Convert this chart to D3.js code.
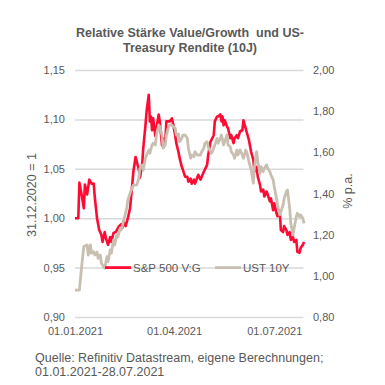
<!DOCTYPE html>
<html>
<head>
<meta charset="utf-8">
<script src="https://cdn.jsdelivr.net/npm/d3@7"></script>
<style>
  body { margin: 0; background: #fff; }
  svg { display: block; font-family: "Liberation Sans", Arial, sans-serif; }
  .tick line { stroke: #d9d9d9; }
  .tick text { fill: #595959; font-size: 11px; }
</style>
</head>
<body>
<script>
// Tick labels
var leftTicks = [0.90, 0.95, 1.00, 1.05, 1.10, 1.15];
var rightTicks = [0.80, 1.00, 1.20, 1.40, 1.60, 1.80, 2.00];
var dateTicks = ['2021-01-01', '2021-04-01', '2021-07-01'];

// S&P 500 Value/Growth, [days since 01.01.2021, value]
var spVG = [[0,1.000],[3,1.000],[4,1.036],[6,1.024],[8,1.010],[9,1.034],[11,1.024],[13,1.039],[15,1.035],[17,1.035],
  [18,1.021],[20,1.000],[22,0.988],[24,0.983],[25,0.976],[27,0.986],[28,0.980],[30,0.973],[32,0.981],[33,0.976],
  [35,0.985],[37,0.986],[40,0.992],[42,0.994],[43,0.990],[44,0.997],[46,0.992],[48,1.000],[50,1.010],[52,1.034],
  [53,1.047],[55,1.062],[58,1.049],[59,1.041],[61,1.054],[62,1.071],[64,1.094],[65,1.108],[67,1.125],[68,1.098],
  [69,1.103],[70,1.089],[71,1.101],[73,1.083],[74,1.091],[76,1.105],[77,1.098],[79,1.074],[80,1.081],[82,1.077],
  [83,1.098],[86,1.098],[88,1.101],[89,1.096],[91,1.084],[92,1.076],[94,1.067],[95,1.061],[97,1.052],[98,1.049],
  [100,1.042],[102,1.042],[103,1.037],[105,1.040],[106,1.035],[108,1.039],[109,1.035],[112,1.044],[114,1.039],[117,1.047],
  [120,1.054],[121,1.064],[123,1.077],[126,1.084],[127,1.098],[129,1.103],[130,1.103],[132,1.105],[133,1.098],[134,1.103],
  [135,1.094],[136,1.099],[138,1.093],[139,1.091],[141,1.081],[142,1.084],[144,1.076],[145,1.081],[147,1.084],[148,1.081],
  [150,1.088],[152,1.089],[153,1.099],[155,1.091],[156,1.087],[158,1.079],[160,1.067],[162,1.059],[163,1.047],[165,1.052],
  [166,1.042],[168,1.034],[169,1.027],[171,1.029],[172,1.022],[174,1.027],[175,1.024],[177,1.017],[178,1.020],[180,1.008],
  [181,1.015],[183,1.005],[184,1.002],[186,1.007],[187,0.988],[189,0.986],[190,0.992],[192,0.988],[193,0.983],[195,0.986],
  [196,0.978],[198,0.981],[199,0.976],[201,0.978],[202,0.966],[204,0.965],[205,0.970],[207,0.973],[208,0.976]];

// UST 10Y yield in % p.a., [days since 01.01.2021, value]
var ust10 = [[0,0.931],[4,0.931],[6,1.044],[8,1.142],[11,1.150],[12,1.101],[14,1.150],[15,1.110],[17,1.117],[18,1.101],
  [20,1.116],[21,1.085],[23,1.101],[24,1.061],[26,1.044],[27,1.037],[29,1.093],[30,1.069],[32,1.126],[33,1.110],
  [35,1.174],[36,1.150],[38,1.198],[39,1.190],[41,1.231],[42,1.223],[44,1.263],[45,1.287],[47,1.328],[48,1.369],
  [50,1.400],[53,1.441],[56,1.441],[58,1.475],[59,1.523],[61,1.539],[62,1.514],[64,1.571],[65,1.587],[67,1.611],
  [68,1.595],[70,1.636],[71,1.644],[73,1.636],[74,1.684],[76,1.733],[77,1.725],[79,1.684],[80,1.620],[82,1.636],
  [83,1.684],[85,1.725],[86,1.733],[88,1.733],[89,1.725],[91,1.718],[92,1.684],[94,1.689],[95,1.652],[97,1.668],
  [98,1.684],[100,1.684],[102,1.668],[103,1.620],[105,1.571],[106,1.587],[108,1.579],[109,1.603],[111,1.587],[114,1.587],
  [115,1.603],[117,1.620],[118,1.644],[120,1.652],[121,1.627],[123,1.603],[124,1.595],[126,1.620],[127,1.636],[129,1.668],
  [130,1.644],[132,1.668],[133,1.684],[135,1.636],[136,1.652],[138,1.684],[139,1.636],[141,1.627],[142,1.603],[144,1.587],
  [145,1.571],[147,1.611],[148,1.587],[150,1.611],[152,1.587],[153,1.571],[155,1.611],[156,1.603],[158,1.555],[160,1.514],
  [162,1.450],[163,1.530],[165,1.603],[166,1.555],[168,1.498],[169,1.530],[171,1.506],[172,1.523],[174,1.539],[175,1.523],
  [177,1.506],[178,1.490],[180,1.466],[181,1.433],[183,1.377],[184,1.344],[186,1.296],[187,1.312],[189,1.344],[190,1.377],
  [192,1.409],[193,1.417],[195,1.328],[196,1.255],[198,1.198],[199,1.231],[201,1.287],[202,1.304],[204,1.287],[205,1.296],
  [207,1.280],[208,1.255]];

var seriesNames = ['S&P 500 V:G', 'UST 10Y'];
var seriesColors = ['#ff0a32', '#c9bfb1'];

var W = 385, H = 385;
var plotLeft = 75, plotRight = 304, plotTop = 70, plotBottom = 317;

var start = new Date(2021, 0, 1);
function day(d) { return d3.timeDay.offset(start, d); }

var x = d3.scaleTime().domain([start, new Date(2021, 6, 28)]).range([plotLeft, plotRight]);
var yL = d3.scaleLinear().domain([0.90, 1.15]).range([plotBottom, plotTop]);
var yR = d3.scaleLinear().domain([0.80, 2.00]).range([plotBottom, plotTop]);

var de = d3.formatLocale({decimal: ',', thousands: '.', grouping: [3], currency: ['', '€']});
var fmt = de.format('.2f');

var svg = d3.select('body').append('svg')
  .attr('width', W)
  .attr('height', H);

// Title
svg.append('text')
  .attr('x', 190).attr('y', 37)
  .attr('text-anchor', 'middle')
  .attr('font-size', '12.5px').attr('font-weight', 'bold').attr('fill', '#595959')
  .attr('xml:space', 'preserve')
  .selectAll('tspan')
  .data(['Relative Stärke Value/Growth  und US-', 'Treasury Rendite (10J)'])
  .enter().append('tspan')
    .attr('x', 190)
    .attr('dy', function(d, i) { return i ? 15 : 0; })
    .text(function(d) { return d; });

// Left axis with gridlines
var gL = svg.append('g')
  .attr('transform', 'translate(' + plotLeft + ',0)')
  .call(d3.axisLeft(yL).tickValues(leftTicks).tickFormat(fmt).tickSize(-(plotRight - plotLeft - 0.5)).tickPadding(10));
gL.select('.domain').remove();
gL.selectAll('.tick line').attr('stroke', '#d9d9d9').attr('stroke-width', 1.5);

// Right axis
var gR = svg.append('g')
  .attr('transform', 'translate(' + plotRight + ',0)')
  .call(d3.axisRight(yR).tickValues(rightTicks).tickFormat(fmt).tickSize(0).tickPadding(9));
gR.select('.domain').remove();

// Date axis
var parse = d3.timeParse('%Y-%m-%d');
var gX = svg.append('g')
  .attr('transform', 'translate(0,' + plotBottom + ')')
  .call(d3.axisBottom(x).tickValues(dateTicks.map(parse))
    .tickFormat(d3.timeFormat('%d.%m.%Y')).tickSize(0).tickPadding(10));
gX.select('.domain').remove();

// Axis titles
svg.append('text')
  .attr('transform', 'translate(36,195) rotate(-90)')
  .attr('text-anchor', 'middle')
  .attr('font-size', '12.5px').attr('fill', '#595959')
  .text('31.12.2020 = 1');

svg.append('text')
  .attr('transform', 'translate(352,191) rotate(-90)')
  .attr('text-anchor', 'middle')
  .attr('font-size', '12.5px').attr('fill', '#595959')
  .text('% p.a.');

// Lines
var lineL = d3.line().x(function(d) { return x(day(d[0])); }).y(function(d) { return yL(d[1]); });
var lineR = d3.line().x(function(d) { return x(day(d[0])); }).y(function(d) { return yR(d[1]); });

svg.append('path')
  .attr('d', lineL(spVG))
  .attr('fill', 'none').attr('stroke', seriesColors[0]).attr('stroke-width', 2.6)
  .attr('stroke-linejoin', 'round');

svg.append('path')
  .attr('d', lineR(ust10))
  .attr('fill', 'none').attr('stroke', seriesColors[1]).attr('stroke-width', 2.8)
  .attr('stroke-linejoin', 'round');

// Legend
var legend = svg.append('g').attr('transform', 'translate(0,' + yL(0.95) + ')');
var legendX = [105, 215];
seriesNames.forEach(function(name, i) {
  legend.append('line')
    .attr('x1', legendX[i]).attr('x2', legendX[i] + 26)
    .attr('stroke', seriesColors[i]).attr('stroke-width', 2.8);
  legend.append('text')
    .attr('x', legendX[i] + 28).attr('dy', '0.35em')
    .attr('font-size', '11.5px').attr('fill', '#595959')
    .text(name);
});

// Source note
svg.append('text')
  .attr('x', 35).attr('y', 362)
  .attr('font-size', '12.5px').attr('fill', '#595959')
  .selectAll('tspan')
  .data(['Quelle: Refinitiv Datastream, eigene Berechnungen;', '01.01.2021-28.07.2021'])
  .enter().append('tspan')
    .attr('x', 35)
    .attr('dy', function(d, i) { return i ? 14 : 0; })
    .text(function(d) { return d; });
</script>
</body>
</html>
